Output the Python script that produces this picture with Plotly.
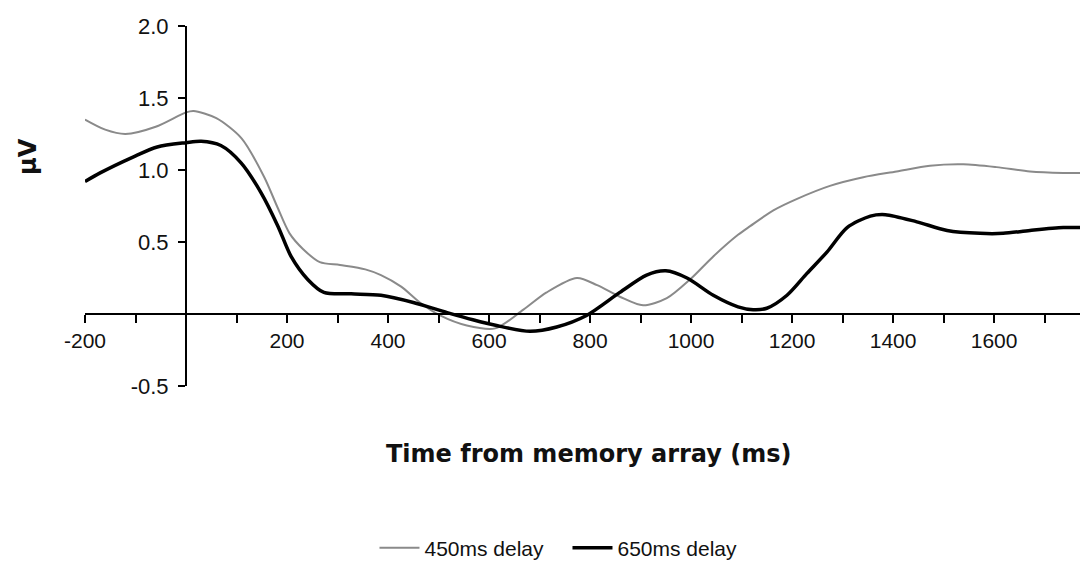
import plotly.graph_objects as go

# Time (ms) and amplitude (µV)
t_450 = [-200, -160, -120, -60, 0, 15, 60, 110, 155, 180, 205, 232, 265, 305, 355, 386,
         426, 463, 503, 556, 612, 668, 714, 774, 814, 859, 905, 952, 998, 1044, 1093,
         1117, 1163, 1210, 1275, 1341, 1407, 1473, 1539, 1605, 1671, 1737, 1786]
v_450 = [1.35, 1.28, 1.25, 1.30, 1.40, 1.41, 1.36, 1.22, 0.95, 0.75, 0.56, 0.45, 0.36,
         0.34, 0.31, 0.27, 0.19, 0.08, -0.01, -0.08, -0.10, 0.03, 0.15, 0.25, 0.20, 0.12,
         0.06, 0.11, 0.24, 0.40, 0.55, 0.61, 0.72, 0.80, 0.89, 0.95, 0.99, 1.03, 1.04,
         1.02, 0.99, 0.98, 0.98]

t_650 = [-200, -170, -105, -57, 0, 30, 69, 109, 149, 182, 208, 241, 273, 327, 386, 450,
         517, 568, 615, 681, 734, 793, 859, 912, 950, 992, 1044, 1093, 1123, 1150, 1190,
         1229, 1269, 1309, 1355, 1385, 1447, 1507, 1572, 1618, 1671, 1737, 1786]
v_650 = [0.92, 0.98, 1.09, 1.16, 1.19, 1.20, 1.17, 1.05, 0.84, 0.61, 0.40, 0.24, 0.15,
         0.14, 0.13, 0.08, 0.01, -0.04, -0.08, -0.12, -0.09, -0.01, 0.15, 0.27, 0.30,
         0.25, 0.13, 0.05, 0.03, 0.04, 0.13, 0.28, 0.43, 0.60, 0.68, 0.69, 0.64, 0.58,
         0.56, 0.56, 0.58, 0.60, 0.60]

series_names = ["450ms delay", "650ms delay"]

x_tickvals = list(range(-200, 1800, 100))
x_ticktext = ["-200", "", "", "", "200", "", "400", "", "600", "", "800", "", "1000", "",
              "1200", "", "1400", "", "1600", ""]
y_tickvals = [-0.5, 0.5, 1.0, 1.5, 2.0]
y_ticktext = ["-0.5", "0.5", "1.0", "1.5", "2.0"]

x_range = [-200, 1782]
y_range = [-0.5, 2.0]

fig = go.Figure()
fig.add_trace(go.Scatter(x=t_450, y=v_450, mode="lines", name=series_names[0],
                         line=dict(color="#8a8a8a", width=2, shape="spline", smoothing=0.8)))
fig.add_trace(go.Scatter(x=t_650, y=v_650, mode="lines", name=series_names[1],
                         line=dict(color="#000000", width=3.5, shape="spline", smoothing=0.8)))

tick_font = dict(family="Liberation Sans", size=21, color="#111111")

fig.update_layout(
    width=1080, height=569,
    margin=dict(l=77, r=2, t=18, b=191),
    paper_bgcolor="white", plot_bgcolor="white",
    showlegend=True,
    legend=dict(orientation="h", x=0.482, y=-0.45, xanchor="center", yanchor="middle",
                font=dict(family="Liberation Sans", size=21, color="#111111"),
                itemwidth=40, tracegroupgap=0, entrywidth=138, entrywidthmode="pixels"),
    xaxis=dict(range=x_range, anchor="free", position=(0 - y_range[0]) / (y_range[1] - y_range[0]),
               showline=True, linecolor="black", linewidth=2,
               showgrid=False, zeroline=False,
               tickmode="array", tickvals=x_tickvals, ticktext=x_ticktext,
               ticks="outside", ticklen=8, tickwidth=2, tickcolor="black",
               tickfont=tick_font),
    yaxis=dict(range=y_range, anchor="free", position=(0 - x_range[0]) / (x_range[1] - x_range[0]),
               showline=True, linecolor="black", linewidth=2,
               showgrid=False, zeroline=False,
               tickmode="array", tickvals=y_tickvals, ticktext=y_ticktext,
               ticks="outside", ticklen=7, tickwidth=2, tickcolor="black",
               ticklabelstandoff=5,
               tickfont=dict(family="Liberation Sans", size=22, color="#111111")),
    annotations=[
        dict(text="<b>Time from memory array (ms)</b>", xref="paper", yref="paper",
             x=0.503, y=-0.19, xanchor="center", yanchor="middle", showarrow=False,
             font=dict(family="DejaVu Sans", size=24, color="#111111")),
        dict(text="<b>µV</b>", xref="paper", yref="paper", x=-0.057, y=0.639,
             xanchor="center", yanchor="middle", showarrow=False, textangle=-90,
             font=dict(family="DejaVu Sans", size=24, color="#111111")),
    ],
)

fig.write_html("out.html")
